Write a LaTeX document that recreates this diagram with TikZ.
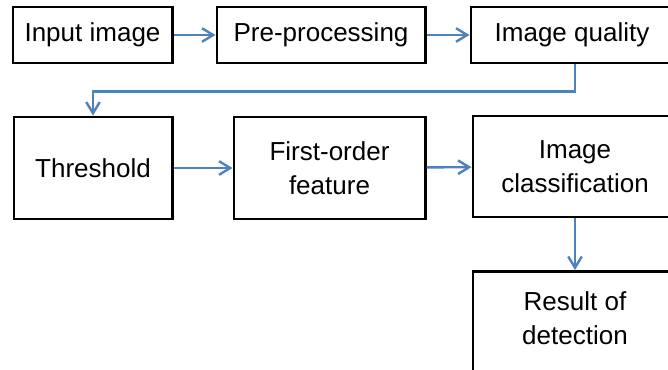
\documentclass[tikz,border=0pt]{standalone}
\usepackage{fontspec}
\setmainfont{Liberation Sans}
\usepackage{tikz}
\usetikzlibrary{positioning,arrows.meta}
\usepackage{xcolor}
\definecolor{flowblue}{RGB}{79,129,189}

\begin{document}
\begin{tikzpicture}[x=0.025cm, y=-0.025cm,
	block/.style={draw, line width=2.1pt, align=center, font=\fontsize{18.5pt}{24pt}\selectfont},
	flow/.style={draw=flowblue, line width=1.7pt, -{Straight Barb[length=2.8mm, width=3.4mm]}}]
\useasboundingbox (0,0) rectangle (668,369);
\clip (0,0) rectangle (668,369);
\node [block, minimum width=3.975cm, minimum height=1.4cm] (input) at (92.5,35) {Input image};
\node [block, minimum width=5.2cm, minimum height=1.4cm] (prep) at (321,35) {Pre-processing};
\node [block, minimum width=5.05cm, minimum height=1.4cm] (quality) at (572,35) {Image quality};
\node [block, minimum width=3.95cm, minimum height=2.55cm] (threshold) at (93,168) {Threshold};
\node [block, minimum width=4.775cm, minimum height=2.55cm] (firstorder) at (329.5,168) {First-order\\feature};
\node [block, minimum width=5.1cm, minimum height=2.525cm] (classif) at (575,166.5) {Image\\classification};
\node [block, minimum width=5.1cm, anchor=north, inner ysep=0.5cm, text depth=1.5cm] (result) at (575,270) {Result of\\detection};
\draw [flow] ([xshift=0.075cm]quality.south) -- ++(0,27) -| (threshold.north);
\draw [flow] (input) -- (prep);
\draw [flow] (prep) -- (quality);
\draw [flow] (threshold) -- (firstorder);
\draw [flow] (firstorder) -- (classif);
\draw [flow] (classif) -- (result);
\end{tikzpicture}
\end{document}
